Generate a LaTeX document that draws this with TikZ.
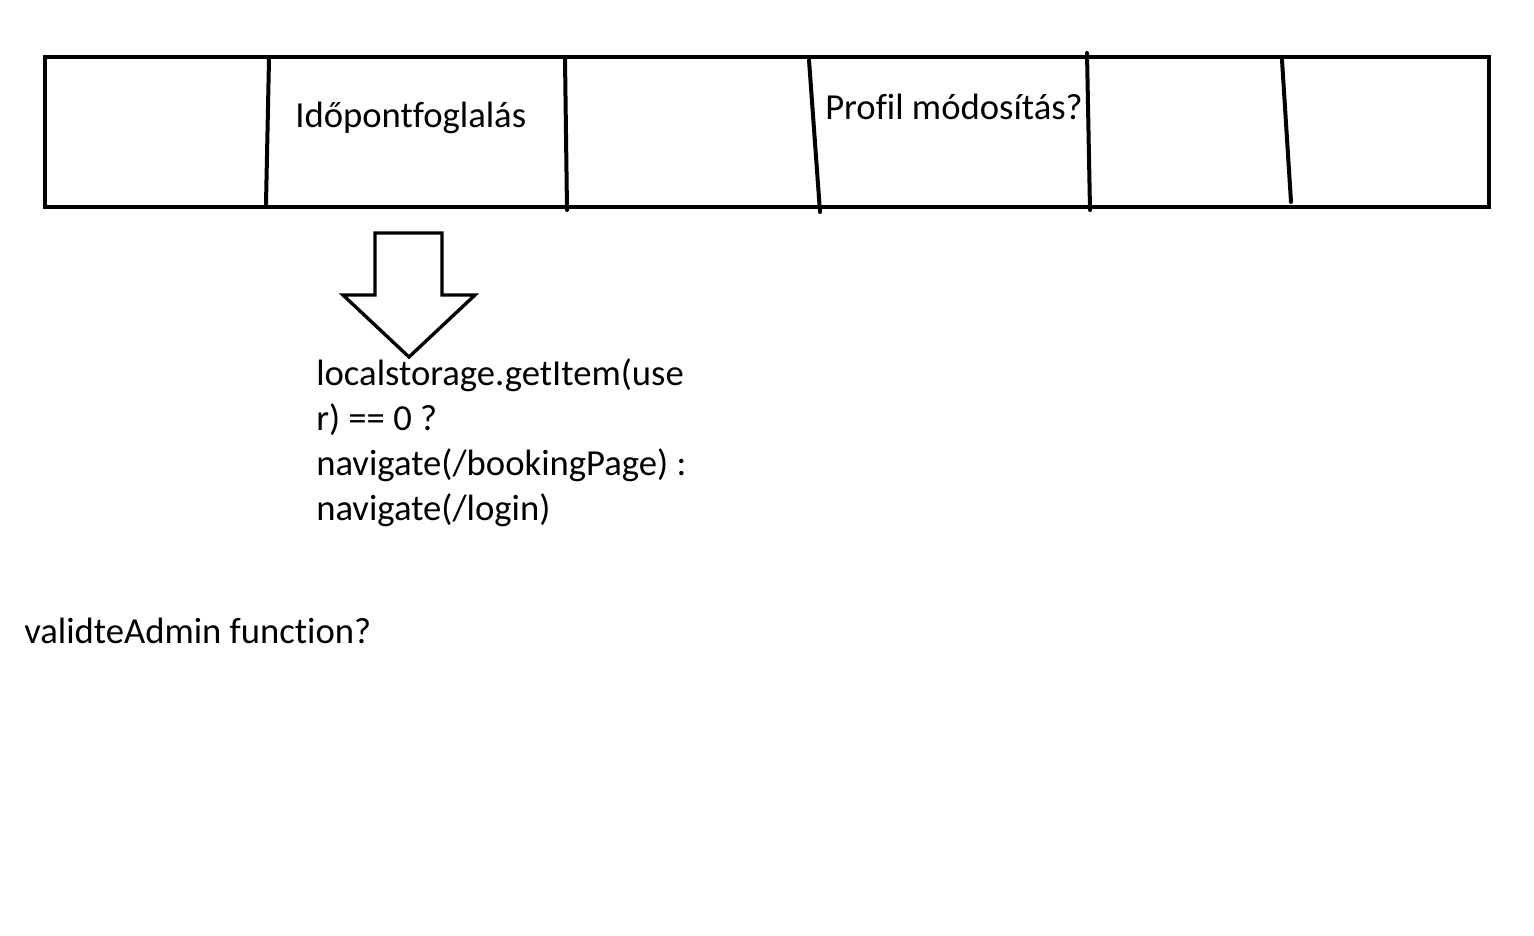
\documentclass[tikz,border=0pt]{standalone}
\usepackage{fontspec}
\setmainfont{Carlito}[Ligatures=NoCommon]

\begin{document}
\begin{tikzpicture}[x=0.75pt,y=0.75pt,yscale=-1,xscale=1]
\tikzset{
  label text/.style={anchor=base west,inner sep=0pt,font=\fontsize{27.5}{33.75}\selectfont},
  thick line/.style={line width=3pt,line cap=round}
}
\useasboundingbox (0,0) rectangle (1534,935);
% menu bar
\draw[thick line] (45,57) rectangle (1489,207);
\draw[thick line]    (269,59) -- (266,204) ;
\draw[thick line]    (565,59) -- (567,210) ;
\draw[thick line]    (809,60) -- (820,212) ;
\draw[thick line]    (1087,53) -- (1090,210) ;
\draw[thick line]    (1282,60) -- (1291,202) ;
% Text Node
\node (booking) [label text] at (295,127) {Időpontfoglalás};
% Text Node
\node (profile) [label text] at (825,119) {Profil módosítás?};
% block arrow
\draw[line width=2.5pt,line join=miter]  (375,233) -- (442,233) -- (442,295) -- (475,295) -- (409,357) -- (343,295) -- (375,295) -- cycle ;
% Text Node (base = last line)
\node (check) [label text,align=left] at (316,520) {localstorage.getItem(use\\r) == 0 ?\\navigate(/bookingPage) :\\navigate(/login)};
% Text Node
\node (admin) [label text] at (24,643) {validteAdmin function?};
\end{tikzpicture}
\end{document}
